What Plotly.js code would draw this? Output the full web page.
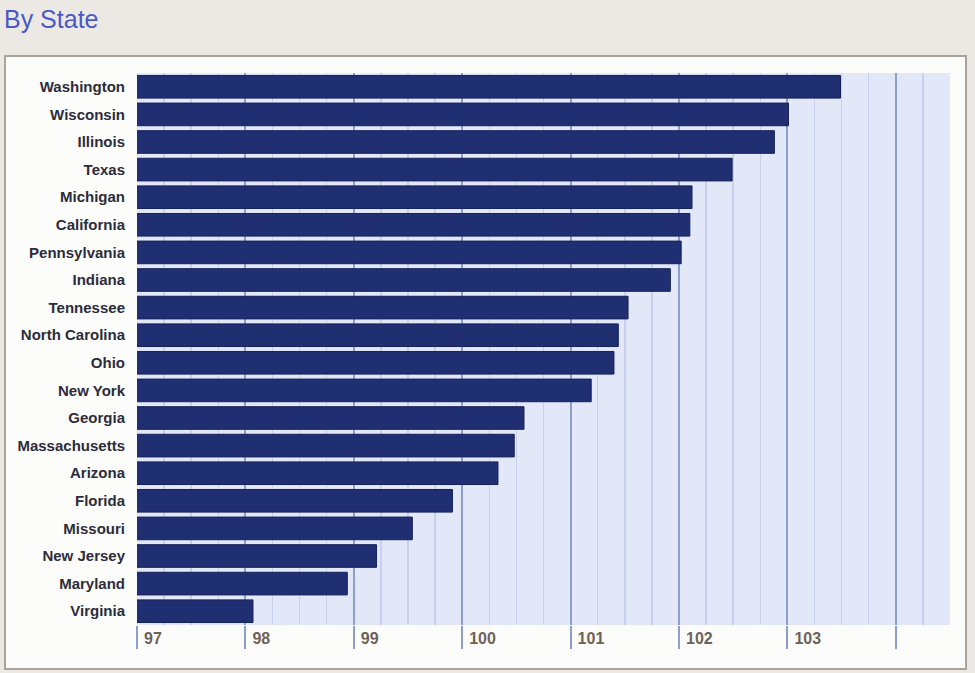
<!DOCTYPE html>
<html>
<head>
<meta charset="utf-8">
<script src="https://cdn.plot.ly/plotly-3.0.1.min.js"></script>
<style>html,body{margin:0;padding:0;background:#ece9e5;}</style>
</head>
<body>
<div id="chart" style="width:975px;height:673px;"></div>
<script>
const states = ["Washington","Wisconsin","Illinois","Texas","Michigan","California","Pennsylvania","Indiana","Tennessee","North Carolina","Ohio","New York","Georgia","Massachusetts","Arizona","Florida","Missouri","New Jersey","Maryland","Virginia"];
const values = [103.49,103.01,102.88,102.49,102.12,102.10,102.02,101.92,101.53,101.44,101.40,101.19,100.57,100.48,100.33,99.91,99.54,99.21,98.94,98.07];
const xTickVals = [97,98,99,100,101,102,103,104];
const xTickText = ["97","98","99","100","101","102","103",""];
const chartTitle = "By State";

const trace = {
  type: 'bar',
  orientation: 'h',
  y: states,
  x: values,
  marker: {color: '#1f2f72', line: {color: '#16225a', width: 1}},
  hoverinfo: 'x+y'
};

const layout = {
  width: 975, height: 673,
  margin: {l: 137, r: 25, t: 73, b: 48},
  paper_bgcolor: '#ece9e5',
  plot_bgcolor: 'rgba(0,0,0,0)',
  showlegend: false,
  bargap: 0.18,
  title: {
    text: chartTitle,
    xref: 'container', yref: 'container',
    x: 4/975, xanchor: 'left',
    y: 1 - 19/673, yanchor: 'middle',
    font: {family: '"Liberation Sans", sans-serif', size: 25, color: '#4a59c6'}
  },
  xaxis: {
    range: [97, 104.5],
    tickmode: 'array',
    tickvals: xTickVals,
    ticktext: xTickText,
    showgrid: true,
    gridcolor: '#8e9ecb',
    gridwidth: 2,
    zeroline: false,
    showline: false,
    ticks: 'outside',
    ticklen: 23,
    tickwidth: 2,
    tickcolor: '#8e9ecb',
    ticklabelposition: 'outside right',
    ticklabelshift: 6,
    ticklabelstandoff: -1,
    tickfont: {family: '"Liberation Sans", sans-serif', size: 16, color: '#6e6258', weight: 'bold'},
    minor: {tickmode: 'linear', tick0: 97, dtick: 0.25, showgrid: true, gridcolor: '#c8cfec', gridwidth: 1.5, ticks: ''},
    fixedrange: true
  },
  yaxis: {
    type: 'category',
    autorange: 'reversed',
    showgrid: false,
    zeroline: false,
    showline: false,
    ticks: '',
    ticklabelstandoff: 11,
    tickfont: {family: '"Liberation Sans", sans-serif', size: 15, color: '#2c2c3a', weight: 'bold'},
    fixedrange: true
  },
  shapes: [
    {type: 'rect', xref: 'paper', yref: 'paper', layer: 'below',
     x0: (5-137)/813, x1: (966-137)/813, y0: 1-(669-73)/552, y1: 1-(56-73)/552,
     fillcolor: '#fcfcfb', line: {color: '#aaa49d', width: 2}},
    {type: 'rect', xref: 'paper', yref: 'paper', layer: 'below',
     x0: 0, x1: 1, y0: 0, y1: 1,
     fillcolor: '#e3e8f8', line: {width: 0}}
  ]
};

Plotly.newPlot('chart', [trace], layout, {displayModeBar: false, staticPlot: true});
</script>
</body>
</html>
